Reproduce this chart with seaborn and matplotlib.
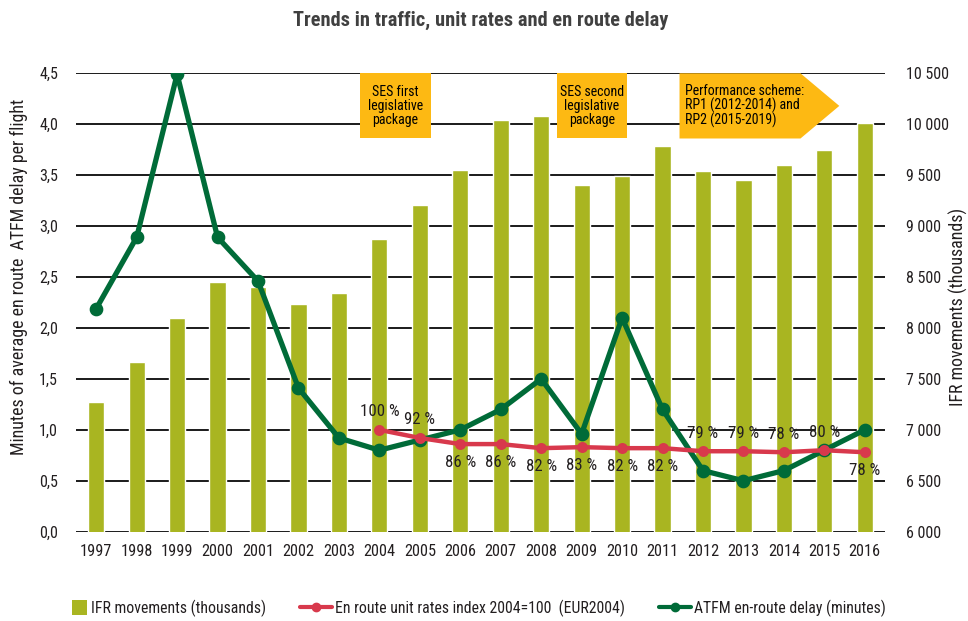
import numpy as np
import pandas as pd
import seaborn as sns
import matplotlib
matplotlib.use("Agg")
import matplotlib.pyplot as plt
from matplotlib import font_manager as fm
from matplotlib.patches import Polygon, Rectangle, Patch
from matplotlib.lines import Line2D
from matplotlib.legend_handler import HandlerPatch

# ---------------- data ----------------
years = [str(y) for y in range(1997, 2017)]
ifr_movements = [7270, 7670, 8100, 8450, 8400, 8240, 8340, 8870, 9210, 9550,
                 10040, 10080, 9400, 9490, 9790, 9540, 9450, 9600, 9750, 10010]
atfm_delay = [2.19, 2.89, 4.49, 2.89, 2.46, 1.41, 0.92, 0.80, 0.90, 1.00,
              1.20, 1.50, 0.96, 2.10, 1.20, 0.60, 0.50, 0.60, 0.80, 1.00]
unit_rate_index = [None, None, None, None, None, None, None,
                   100, 92, 86, 86, 82, 83, 82, 82, 79, 79, 78, 80, 78]
label_above = [True, True, False, False, False, False, False, False,
               True, True, True, True, False]
left_ticks = [0.0, 0.5, 1.0, 1.5, 2.0, 2.5, 3.0, 3.5, 4.0, 4.5]
right_ticks = [6000, 6500, 7000, 7500, 8000, 8500, 9000, 9500, 10000, 10500]

legend_labels = ["IFR movements (thousands)",
                 "En route unit rates index 2004=100  (EUR2004)",
                 "ATFM en-route delay (minutes)"]
title = "Trends in traffic, unit rates and en route delay"
left_label = "Minutes of average en route  ATFM delay per flight"
right_label = "IFR movements (thousands)"
box_texts = ["SES first\nlegislative\npackage",
             "SES second\nlegislative\npackage",
             "Performance scheme:\nRP1 (2012-2014) and\nRP2 (2015-2019)"]

# ---------------- fonts ----------------
sns.set_style("white")


def pick_font():
    entries = fm.fontManager.ttflist
    names = {f.name for f in entries}
    for n in ["Liberation Sans Narrow", "Roboto Condensed", "Open Sans Condensed",
              "Noto Sans Condensed", "DejaVu Sans Condensed", "Arial Narrow",
              "Noto Sans Display Condensed"]:
        if n in names:
            return n, "normal"
    pref = ["Roboto", "Noto Sans", "Open Sans", "DejaVu Sans", "Lato", "Inter"]
    cond = [f for f in entries
            if (isinstance(f.stretch, str) and "condensed" in f.stretch)
            or (isinstance(f.stretch, int) and f.stretch < 500)]
    for p in pref:
        for f in cond:
            if f.name == p:
                return f.name, f.stretch
    if cond:
        return cond[0].name, cond[0].stretch
    for p in ["Roboto", "Liberation Sans", "DejaVu Sans"]:
        if p in names:
            return p, "normal"
    return "DejaVu Sans", "normal"


FONT, STRETCH = pick_font()
plt.rcParams["font.family"] = [FONT, "DejaVu Sans"]
plt.rcParams["font.stretch"] = STRETCH

OLIVE = "#A9B521"
GREEN = "#006B38"
RED = "#D8394C"
ORANGE = "#FDB913"
TXT = "#231F20"

fig = plt.figure(figsize=(9.68, 6.21), dpi=100)
renderer = fig.canvas.get_renderer()


def fit(text, target_px, weight="normal", base=12.0):
    t = fig.text(0, 0, text, fontsize=base, fontweight=weight)
    w = t.get_window_extent(renderer).width
    t.remove()
    return base * target_px / w


FS = min(fit("IFR movements (thousands)", 174), 17.0)
FS_TICK = min(fit("10 500", 43), 17.0)
FS_YEAR = min(fit("1997", 32), 17.0)
FS_BOX = min(fit("Performance scheme:", 120), 17.0)
FS_PCT = min(fit("100 %", 39), 17.0)
FS_TITLE = min(fit(title, 374, "bold"), 17.0)
FS_YLAB = min(fit(left_label, 355), 17.0)
px = FS / 72 * 100  # font size in pixels

df = pd.DataFrame({"year": years, "ifr": ifr_movements, "delay": atfm_delay,
                   "rate": [np.nan if v is None else v / 100 for v in unit_rate_index]})

ax = fig.add_axes([76 / 968, 1 - 531.7 / 621, (885 - 76) / 968, (531.7 - 73.3) / 621])
ax2 = ax.twinx()

# bars on right axis
sns.barplot(data=df, x="year", y="ifr", order=years, color=OLIVE, width=0.4,
            saturation=1, ax=ax2, zorder=2)
ax2.set_ylim(6000, 10500)
ax2.set_yticks(right_ticks)
ax2.set_yticklabels([f"{v:,}".replace(",", " ") for v in right_ticks])
ax2.grid(axis="y", color="#1a1a1a", linewidth=1.4)
ax2.set_axisbelow(True)
ax2.tick_params(axis="y", length=0, pad=15, labelsize=FS_TICK, labelcolor=TXT)
ax2.set_ylabel(right_label, fontsize=FS_YLAB, color=TXT)
ax2.yaxis.set_label_coords((949 - 76) / 809, 0.49)

# lines on left axis
ax.set_zorder(3)
ax.patch.set_visible(False)
sns.pointplot(data=df, x="year", y="delay", order=years, color=GREEN,
              markers="o", markersize=7, linewidth=3.8, errorbar=None, ax=ax)
sns.pointplot(data=df, x="year", y="rate", order=years, color=RED,
              markers="o", markersize=5.5, linewidth=3.2, errorbar=None, ax=ax)
ax.set_ylim(0, 4.5)
ax.set_xlim(-0.5, len(years) - 0.5)
ax.set_yticks(left_ticks)
ax.set_yticklabels([f"{v:.1f}".replace(".", ",") for v in left_ticks])
ax.tick_params(axis="y", length=0, pad=13, labelsize=FS_TICK, labelcolor=TXT)
ax.tick_params(axis="x", length=0, pad=9, labelsize=FS_YEAR, labelcolor=TXT)
ax.set_xlabel("")
ax.set_ylabel(left_label, fontsize=FS_YLAB, color=TXT)
ax.yaxis.set_label_coords((28 - 76) / 809, 0.555)
for a in (ax, ax2):
    for s in a.spines.values():
        s.set_visible(False)

# percentage labels
rate_idx = [i for i, v in enumerate(unit_rate_index) if v is not None]
for k, i in enumerate(rate_idx):
    v = unit_rate_index[i]
    dy = 18 if label_above[k] else -18
    ax.annotate(f"{v} %", xy=(i, v / 100), xytext=(0, dy), textcoords="offset pixels",
                ha="center", va="center", fontsize=FS_PCT, color=TXT, zorder=6)

# annotation boxes (data coords)
ytop, ybot = 4.5, 3.86
ymid = (ytop + ybot) / 2
boxes = [
    [(6.52, ytop), (8.27, ytop), (8.27, ybot), (6.52, ybot)],
    [(11.38, ytop), (13.13, ytop), (13.13, ybot), (11.38, ybot)],
    [(14.42, ytop), (17.41, ytop), (18.37, ymid), (17.41, ybot), (14.42, ybot)],
]
for pts in boxes:
    ax.add_patch(Polygon(pts, closed=True, facecolor=ORANGE, edgecolor="none",
                         zorder=7, clip_on=False))
ax.text(7.39, ymid, box_texts[0], ha="center", va="center", fontsize=FS_BOX,
        color="black", linespacing=1.0, zorder=8)
ax.text(12.25, ymid, box_texts[1], ha="center", va="center", fontsize=FS_BOX,
        color="black", linespacing=1.0, zorder=8)
ax.text(14.56, ymid, box_texts[2], ha="left", va="center", fontsize=FS_BOX,
        color="black", linespacing=1.0, zorder=8)

# title
fig.text(481 / 968, 1 - 20 / 621, title, ha="center", va="center", fontsize=FS_TITLE,
         fontweight="bold", color="#404040")


# legend
def square_patch(legend, orig_handle, xdescent, ydescent, width, height, fontsize):
    side = 10.8
    return Rectangle((-xdescent + width - side - 1, -ydescent + height / 2 - side / 2),
                     side, side)


handles = [
    Patch(facecolor=OLIVE, edgecolor="none"),
    Line2D([], [], color=RED, linewidth=3, marker="o", markersize=6),
    Line2D([], [], color=GREEN, linewidth=3, marker="o", markersize=6),
]
fig.legend(handles, legend_labels, loc="center", bbox_to_anchor=(471 / 968, 1 - 608 / 621),
           ncol=3, frameon=False, fontsize=FS, handlelength=32 / px,
           handletextpad=3 / px, columnspacing=34 / px, labelcolor=TXT,
           handler_map={Patch: HandlerPatch(patch_func=square_patch)})

fig.savefig("out.png", dpi=100)
